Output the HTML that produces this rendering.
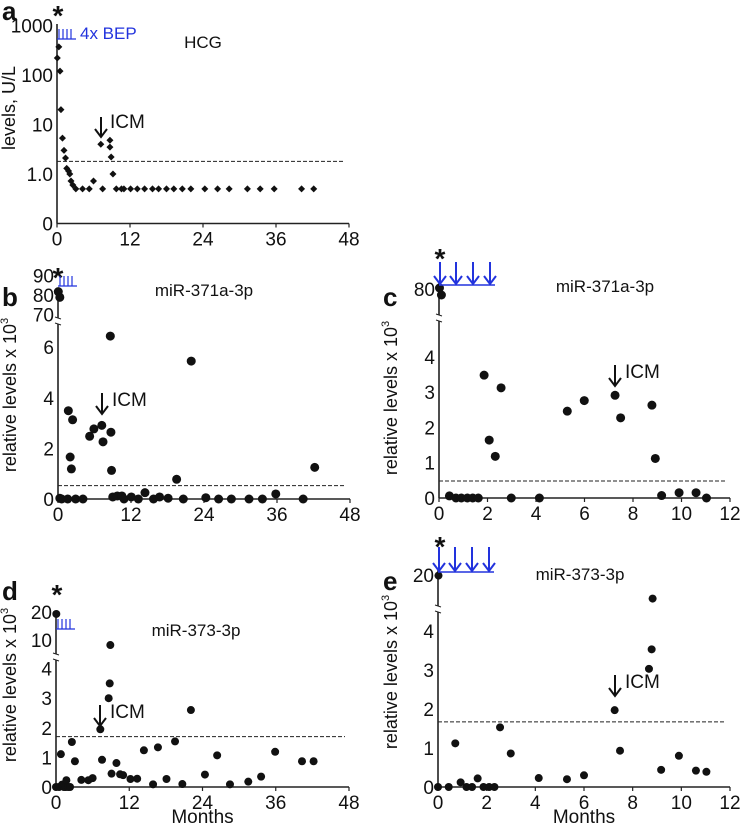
<!DOCTYPE html>
<html><head><meta charset="utf-8">
<style>
html,body{margin:0;padding:0;background:#fff;}
svg{display:block;font-family:"Liberation Sans",Arial,sans-serif;}
</style></head>
<body>
<svg id="fig" width="742" height="826" viewBox="0 0 742 826" xmlns="http://www.w3.org/2000/svg"></svg>
<script>
// ---- Panel a (HCG, log scale) ----
const aMonths=[0.05,0.3,0.5,0.65,0.9,1.15,1.4,1.6,1.9,2.1,2.3,2.6,3.1,4.2,5.3,6.0,7.5,7.2,8.7,8.7,8.9,9.2,9.75,10.6,11.0,12.1,13.2,14.4,15.7,16.7,18.0,19.2,20.6,22.0,24.3,26.4,28.3,31.3,33.4,35.7,40.2,42.2];
const aValues=[220,370,120,20,5.3,3.0,2.1,1.3,1.15,1.0,0.72,0.6,0.5,0.5,0.5,0.72,0.5,4.0,4.8,3.5,2.2,1.0,0.5,0.5,0.5,0.5,0.5,0.5,0.5,0.5,0.5,0.5,0.5,0.5,0.5,0.5,0.5,0.5,0.5,0.5,0.5,0.5];
const aCutoff=1.8;
const aYTicks=["1000","100","10","1.0","0"];
const aYTickVals=[1000,100,10,1,0.1];
const xTicks48=[0,12,24,36,48];
const xTicks12=[0,2,4,6,8,10,12];
// ---- Panel b (miR-371a-3p, 48 months) ----
const bUpMonths=[0.05,0.3];
const bUpValues=[81.7,78.8];
const bMonths=[0.3,0.6,1.6,1.7,2.0,2.2,2.4,2.9,4.1,5.2,5.9,7.2,7.4,8.7,8.6,8.8,9.0,9.75,10.5,10.85,12.05,13.2,14.3,15.7,16.7,18.1,19.5,20.6,21.9,24.3,26.4,28.5,31.4,33.6,35.8,40.3,42.2];
const bValues=[0.03,0,0,3.49,1.66,1.19,3.13,0,0,2.48,2.77,2.91,2.26,2.64,6.44,1.13,0.08,0.12,0.12,0,0.08,0,0.25,0,0.08,0.03,0.78,0,5.45,0.05,0,0,0,0,0.2,0,1.25];
const bCutoff=0.53;
const bYTicks=[0,2,4,6];
const bUpTicks=[70,80,90];
// ---- Panel c (miR-371a-3p, 12 months) ----
const cUpMonths=[0.02,0.1];
const cUpValues=[80.5,77];
const cMonths=[0.43,0.7,0.92,1.17,1.39,1.62,1.86,2.07,2.32,2.56,2.98,4.14,5.29,5.99,7.26,7.49,8.78,8.92,9.18,9.9,10.6,11.03];
const cValues=[0.06,0,0,0,0,0,3.48,1.64,1.18,3.12,0,0,2.46,2.76,2.91,2.27,2.63,1.12,0.07,0.15,0.15,0];
const cCutoff=0.48;
const cYTicks=[0,1,2,3,4];
const cUpTicks=[80];
// ---- Panel d (miR-373-3p, 48 months) ----
const dUpMonths=[0.05,8.9];
const dUpValues=[19.3,8.2];
const dMonths=[0,0.5,0.8,1.0,1.3,1.7,1.6,2.0,2.3,2.6,3.1,4.15,5.3,6.0,7.26,7.54,8.63,8.8,9.1,9.9,10.5,11.0,12.2,13.3,14.4,15.9,16.7,18.1,19.5,20.7,22.1,24.4,26.4,28.5,31.5,33.6,35.9,40.3,42.2];
const dValues=[0,0,1.11,0.08,0,0.23,0,0,0,1.52,0.87,0.24,0.23,0.3,1.95,0.92,3.0,3.5,0.45,0.81,0.43,0.4,0.27,0.28,1.24,0.09,1.34,0.27,1.54,0.1,2.6,0.42,1.07,0.09,0.18,0.35,1.19,0.87,0.87];
const dCutoff=1.7;
const dYTicks=[0,1,2,3,4];
const dUpTicks=[10,20];
// ---- Panel e (miR-373-3p, 12 months) ----
const eUpMonths=[0.02,8.82];
const eUpValues=[19.7,8.2];
const eMonths=[0.0,0.44,0.71,0.93,1.17,1.4,1.63,1.87,2.1,2.32,2.55,2.99,4.14,5.3,6.0,7.26,7.48,8.67,8.78,9.17,9.9,10.6,11.03];
const eValues=[0,0,1.12,0.12,0,0,0.22,0,0,0,1.53,0.86,0.23,0.2,0.3,1.97,0.93,3.03,3.53,0.44,0.8,0.42,0.39];
const eCutoff=1.67;
const eYTicks=[0,1,2,3,4];
const eUpTicks=[20];

const NS="http://www.w3.org/2000/svg";
const svg=document.getElementById('fig');
const TICK=19, TITLE=17, YT=18;
function el(tag,attrs,parent,txt){const e=document.createElementNS(NS,tag);for(const k in attrs)e.setAttribute(k,attrs[k]);if(txt!==undefined)e.textContent=txt;(parent||svg).appendChild(e);return e;}
function grp(name,parent){const g=document.createElementNS(NS,'g');


(parent||svg).appendChild(g);return g;}

function arrowDown(g,x,y1,y2,color,w){
  el('line',{x1:x,y1:y1,x2:x,y2:y2,stroke:color,'stroke-width':w},g);
  el('polyline',{points:`${x-6},${y2-8} ${x},${y2} ${x+6},${y2-8}`,fill:'none',stroke:color,'stroke-width':w},g);
}
function text(g,x,y,s,size,opts){const t=el('text',Object.assign({x:x,y:y,'font-size':size,fill:'#111'},opts||{}),g,s);return t;}

function panel(cfg){
  const g=grp(cfg.name);
  const X=m=>cfg.x0+(m/cfg.xMax)*(cfg.x1-cfg.x0);
  const Y=v=>cfg.base-v*cfg.ppu;
  const YU=v=>cfg.upRefY+(cfg.upRef-v)*cfg.upPpu;
  const L=text(g,cfg.letter[0],cfg.letter[1],cfg.letter[2],26,{'font-weight':'bold'});
  
  
  const ax=grp('axes',g);
  el('line',{x1:cfg.x0,y1:cfg.base,x2:cfg.x1,y2:cfg.base,stroke:'#222','stroke-width':1.6},ax);
  el('line',{x1:cfg.x0,y1:cfg.base,x2:cfg.x0,y2:cfg.brk+3,stroke:'#222','stroke-width':1.6},ax);
  el('line',{x1:cfg.x0,y1:cfg.brk-3,x2:cfg.x0,y2:cfg.axTop,stroke:'#222','stroke-width':1.6},ax);
  el('line',{x1:cfg.x0-3,y1:cfg.brk-4,x2:cfg.x0+3,y2:cfg.brk-2,stroke:'#222','stroke-width':1},ax);
  el('line',{x1:cfg.x0-3,y1:cfg.brk+2,x2:cfg.x0+3,y2:cfg.brk+4,stroke:'#222','stroke-width':1},ax);
  cfg.xTicks.forEach(t=>{
    el('line',{x1:X(t),y1:cfg.base,x2:X(t),y2:cfg.base+4,stroke:'#222','stroke-width':1.2},ax);
    const tl=text(ax,X(t),cfg.base+22,String(t),TICK,{'text-anchor':'middle'});
    
    
  });
  cfg.yTicks.forEach(t=>{
    const tl=text(ax,cfg.x0-4,Y(t)+7,String(t),TICK,{'text-anchor':'end'});
    
    
  });
  cfg.upTicks.forEach(t=>{
    const tl=text(ax,cfg.x0-4,YU(t)+7,String(t),TICK,{'text-anchor':'end'});
    
    
  });
  const yt=el('text',{x:0,y:0,'font-size':YT,fill:'#111','text-anchor':'middle',transform:`translate(${cfg.yTitle[0]},${cfg.yTitle[1]}) rotate(-90)`},g);
  
  
  yt.textContent='relative levels  x 10';
  el('tspan',{'font-size':11,dy:-8},yt,'3');
  if(cfg.xTitle){const xt=text(g,(cfg.x0+cfg.x1)/2,cfg.base+36,'Months',TICK,{'text-anchor':'middle'});
    
    }
  const tt=text(g,cfg.title[0],cfg.title[1],cfg.title[2],TITLE,{'text-anchor':'middle'});
  
  
  const cl=el('line',{x1:cfg.x0,y1:Y(cfg.cutoff),x2:cfg.x1-4,y2:Y(cfg.cutoff),stroke:'#222','stroke-width':1,'stroke-dasharray':'4,2'},g);
  
  
  const pts=grp('data-points',g);
  cfg.months.forEach((m,i)=>{
    const c=el('circle',{cx:X(m),cy:Y(cfg.values[i]),r:cfg.r,fill:'#111'},pts);
    
    
  });
  cfg.upMonths.forEach((m,i)=>{
    const c=el('circle',{cx:X(m),cy:YU(cfg.upValues[i]),r:cfg.r,fill:'#111'},pts);
    
    
  });
  const ig=grp('icm-annotation',g);
  arrowDown(ig,cfg.icm[0],cfg.icm[1],cfg.icm[1]+21,'#111',2);
  text(ig,cfg.icm[0]+10,cfg.icm[1]+13,'ICM',TICK);
  const st=text(g,cfg.star[0],cfg.star[1],'*',28,{'text-anchor':'middle','font-weight':'bold'});
  
  
  const bg=grp('bep-cycles',g);
  if(cfg.bepArrows){
    const [y,ytop]=cfg.bepArrows;
    el('line',{x1:cfg.x0,y1:y,x2:cfg.x0+56,y2:y,stroke:'#2233dd','stroke-width':1.6},bg);
    [1,17,34,51].forEach(d=>arrowDown(bg,cfg.x0+d,ytop,y-1,'#2233dd',2));
  } else {
    const y=cfg.bepTicks;
    el('line',{x1:cfg.x0,y1:y,x2:cfg.x0+19,y2:y,stroke:'#2233dd','stroke-width':1.2},bg);
    [2,6,10,14].forEach(d=>el('line',{x1:cfg.x0+d,y1:y-10,x2:cfg.x0+d,y2:y,stroke:'#2233dd','stroke-width':1.2},bg));
  }
  return g;
}

// Panel a
(function(){
  const g=grp('panel-a-hcg');
  const x0=57,x1=349,xMax=48,base=223.5,dec=49.5;
  const X=m=>x0+(m/xMax)*(x1-x0);
  const Y=v=>base-(Math.log10(v)+1)*dec;
  const L=text(g,2,20,'a',26,{'font-weight':'bold'});
  
  
  const ax=grp('axes',g);
  el('line',{x1:x0,y1:base,x2:x1,y2:base,stroke:'#222','stroke-width':1.6},ax);
  el('line',{x1:x0,y1:base,x2:x0,y2:24,stroke:'#222','stroke-width':1.6},ax);
  xTicks48.forEach(t=>{
    el('line',{x1:X(t),y1:base,x2:X(t),y2:base+4,stroke:'#222','stroke-width':1.2},ax);
    const tl=text(ax,X(t),base+22,String(t),TICK,{'text-anchor':'middle'});
    
    
  });
  aYTicks.forEach((s,i)=>{
    const tl=text(ax,x0-4,Y(aYTickVals[i])+7,s,TICK,{'text-anchor':'end'});
    
    
  });
  const yt=el('text',{x:0,y:0,'font-size':YT,fill:'#111','text-anchor':'middle',transform:'translate(15,108) rotate(-90)'},g,'levels, U/L');
  
  
  const tt=text(g,203,48,'HCG',TITLE,{'text-anchor':'middle'});
  
  
  const cl=el('line',{x1:x0,y1:Y(aCutoff),x2:x1-4,y2:Y(aCutoff),stroke:'#222','stroke-width':1,'stroke-dasharray':'4,2'},g);
  
  
  const pts=grp('data-points',g);
  aMonths.forEach((m,i)=>{
    const x=X(m),y=Y(aValues[i]);
    const p=el('polygon',{points:`${x},${y-3.5} ${x+3.5},${y} ${x},${y+3.5} ${x-3.5},${y}`,fill:'#111'},pts);
    
    
  });
  const ig=grp('icm-annotation',g);
  arrowDown(ig,101,117,137,'#111',2);
  text(ig,110,128,'ICM',TICK);
  const st=text(g,58,25,'*',28,{'text-anchor':'middle','font-weight':'bold'});
  
  
  const bg=grp('bep-cycles',g);
  el('line',{x1:x0,y1:39,x2:x0+19,y2:39,stroke:'#2233dd','stroke-width':1.2},bg);
  [2,6,10,14].forEach(d=>el('line',{x1:x0+d,y1:29,x2:x0+d,y2:39,stroke:'#2233dd','stroke-width':1.2},bg));
  const bt=text(bg,80,39,'4x BEP',17,{fill:'#2233dd'});
  
  
})();

panel({name:'panel-b-mir371',letter:[2,306,'b'],x0:58,x1:350,xMax:48,base:499,ppu:25.3,
  upRef:80,upRefY:295,upPpu:1.95,brk:321,axTop:290,xTicks:xTicks48,yTicks:bYTicks,upTicks:bUpTicks,
  yTitle:[16,395],title:[204,296,'miR-371a-3p'],cutoff:bCutoff,months:bMonths,values:bValues,
  upMonths:bUpMonths,upValues:bUpValues,r:4.5,icm:[102,393],star:[58,287],bepTicks:286});
panel({name:'panel-c-mir371',letter:[383,306,'c'],x0:439,x1:730,xMax:12,base:498,ppu:35.3,
  upRef:80,upRefY:289,upPpu:2,brk:318,axTop:282,xTicks:xTicks12,yTicks:cYTicks,upTicks:cUpTicks,
  yTitle:[397,398],title:[605,292,'miR-371a-3p'],cutoff:cCutoff,months:cMonths,values:cValues,
  upMonths:cUpMonths,upValues:cUpValues,r:4.5,icm:[615,365],star:[440,268],bepArrows:[285,262]});
panel({name:'panel-d-mir373',letter:[2,600,'d'],x0:56,x1:349,xMax:48,base:787,ppu:29.6,
  upRef:20,upRefY:612,upPpu:2.8,brk:657,axTop:612,xTicks:xTicks48,yTicks:dYTicks,upTicks:dUpTicks,
  yTitle:[16,685],title:[196,636,'miR-373-3p'],cutoff:dCutoff,months:dMonths,values:dValues,
  upMonths:dUpMonths,upValues:dUpValues,r:4,icm:[100,705],star:[57,604],bepTicks:629,xTitle:true});
panel({name:'panel-e-mir373',letter:[383,590,'e'],x0:438,x1:730,xMax:12,base:787,ppu:39,
  upRef:20,upRefY:575,upPpu:2,brk:609,axTop:570,xTicks:xTicks12,yTicks:eYTicks,upTicks:eUpTicks,
  yTitle:[397,672],title:[580,580,'miR-373-3p'],cutoff:eCutoff,months:eMonths,values:eValues,
  upMonths:eUpMonths,upValues:eUpValues,r:4,icm:[615,675],star:[440,556],bepArrows:[572,547],xTitle:true});
</script>
</body></html>
